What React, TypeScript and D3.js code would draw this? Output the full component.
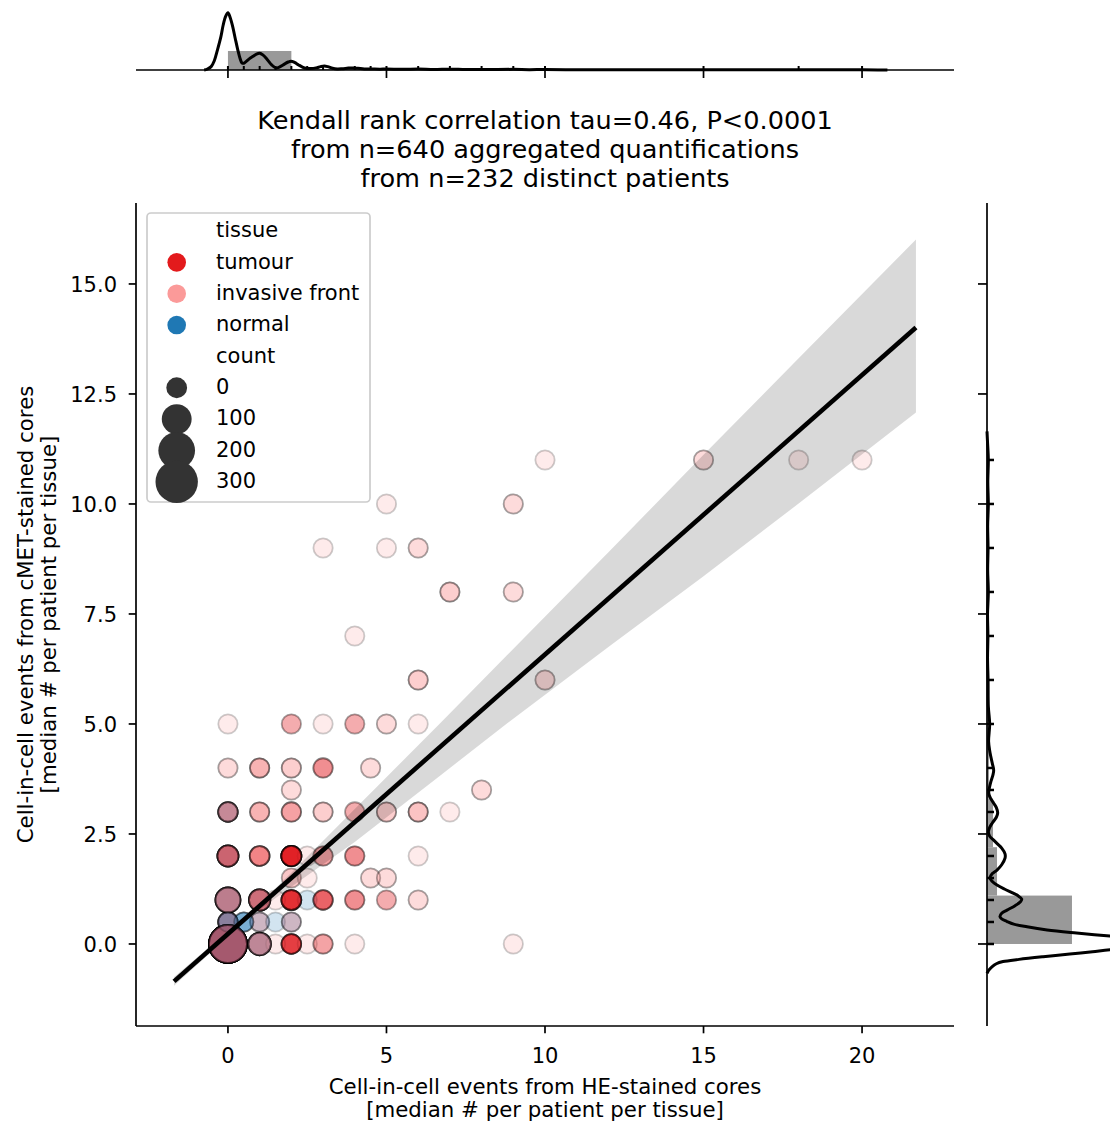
import React from "react";
import * as d3 from "d3";

const W = 1110;
const H = 1121;
const FONT = "'DejaVu Sans', sans-serif";

const xTicks = [0, 5, 10, 15, 20];
const yTicks = [0, 2.5, 5, 7.5, 10, 12.5, 15];
const tissueNames = ["tumour", "invasive front", "normal"];
const tissueColors = ["#e31a1c", "#fb9a99", "#1f78b4"];
const countLegend = [0, 100, 200, 300];

const titleLines = [
  "Kendall rank correlation tau=0.46, P<0.0001",
  "from n=640 aggregated quantifications",
  "from n=232 distinct patients",
];
const xLabelLines = ["Cell-in-cell events from HE-stained cores", "[median # per patient per tissue]"];
const yLabelLines = ["Cell-in-cell events from cMET-stained cores", "[median # per patient per tissue]"];

// [x, y, tissue index, count, overlapping quantifications]
const points: [number, number, number, number, number][] = [
  [0, 0, 0, 249, 10], [0, 0, 1, 249, 9], [0, 0, 2, 249, 9],
  [1, 0, 0, 33, 2], [1, 0, 1, 33, 6], [1, 0, 2, 33, 3],
  [1.5, 0, 1, 1, 1], [2, 0, 0, 4, 8], [2.5, 0, 1, 1, 1],
  [3, 0, 0, 2, 2], [3, 0, 1, 2, 1], [4, 0, 1, 1, 1], [9, 0, 1, 1, 1],
  [0, 0.5, 0, 3, 2], [0, 0.5, 1, 3, 2], [0, 0.5, 2, 3, 5],
  [0.5, 0.5, 2, 1, 4],
  [1, 0.5, 0, 1, 1], [1, 0.5, 1, 1, 1], [1, 0.5, 2, 1, 1],
  [1.5, 0.5, 2, 1, 1],
  [2, 0.5, 0, 1, 1], [2, 0.5, 1, 1, 1], [2, 0.5, 2, 1, 1],
  [0, 1, 0, 59, 3], [0, 1, 1, 59, 6], [0, 1, 2, 59, 3],
  [1, 1, 0, 20, 5], [1, 1, 1, 20, 5], [1, 1, 2, 20, 2],
  [1.5, 1, 1, 1, 1], [2, 1, 0, 6, 10], [2.5, 1, 2, 1, 1],
  [3, 1, 0, 3, 5], [4, 1, 0, 2, 3], [5, 1, 0, 1, 2], [6, 1, 1, 1, 2],
  [2, 1.5, 0, 1, 1], [2, 1.5, 1, 1, 1], [2.5, 1.5, 1, 1, 1],
  [4.5, 1.5, 1, 1, 2], [5, 1.5, 1, 1, 2],
  [0, 2, 0, 18, 5], [0, 2, 1, 18, 4], [0, 2, 2, 18, 2],
  [1, 2, 0, 5, 3], [1, 2, 1, 5, 4], [2, 2, 0, 8, 14], [2.5, 2, 1, 1, 1],
  [3, 2, 0, 2, 2], [3, 2, 1, 2, 1], [4, 2, 0, 2, 3], [6, 2, 1, 1, 1],
  [0, 3, 0, 3, 2], [0, 3, 1, 3, 5], [0, 3, 2, 3, 2],
  [1, 3, 0, 1, 1], [1, 3, 1, 1, 3], [2, 3, 0, 2, 2], [2, 3, 1, 2, 2],
  [3, 3, 1, 1, 3], [4, 3, 0, 2, 2], [5, 3, 1, 1, 3], [6, 3, 1, 1, 4], [7, 3, 1, 1, 1],
  [2, 3.5, 1, 1, 2], [8, 3.5, 1, 1, 2],
  [0, 4, 1, 1, 2], [1, 4, 0, 1, 1], [1, 4, 1, 1, 3], [2, 4, 1, 1, 3],
  [3, 4, 0, 2, 3], [4.5, 4, 1, 1, 2],
  [0, 5, 1, 1, 1], [2, 5, 0, 1, 2], [3, 5, 1, 1, 1], [4, 5, 0, 1, 2],
  [5, 5, 1, 1, 2], [6, 5, 1, 1, 1],
  [6, 6, 1, 1, 3], [10, 6, 1, 1, 2],
  [4, 7, 1, 1, 1],
  [7, 8, 1, 1, 3], [9, 8, 1, 1, 2],
  [3, 9, 1, 1, 1], [5, 9, 1, 1, 1], [6, 9, 1, 1, 2],
  [5, 10, 1, 1, 1], [9, 10, 1, 1, 2],
  [10, 11, 1, 1, 1], [15, 11, 1, 1, 2], [18, 11, 1, 1, 1], [20, 11, 1, 1, 1],
];

// regression line and bootstrap confidence band
const regX = [-1.7, 21.7];
const regY = [-0.85, 14.01];
const ciX = [-1.7, 0, 1, 2, 4, 6.7, 8.8, 12, 15, 18, 21.7];
const ciHigh = [-0.75, 0.29, 0.915, 1.62, 3.07, 5.02, 6.56, 8.9, 11.12, 13.31, 16.01];
const ciLow = [-0.95, 0.16, 0.785, 1.3, 2.32, 3.83, 5.01, 6.75, 8.36, 10.01, 12.08];

// top marginal (x distribution)
const topBinEdges = [0, 2, 4, 6, 8, 10, 12, 14, 16, 18, 20];
const topHist = [0.452, 0.025, 0.008, 0.004, 0.004, 0.002, 0.001, 0.001, 0.002, 0.002];
const topKdeX = [-0.75, -0.65, -0.53, -0.43, -0.33, -0.22, -0.15, -0.07, 0, 0.07, 0.15, 0.23, 0.31, 0.38, 0.44, 0.5, 0.57, 0.68, 0.78, 0.9, 1.0, 1.1, 1.25, 1.38, 1.51, 1.62, 1.78, 1.9, 1.99, 2.1, 2.23, 2.35, 2.46, 2.6, 2.78, 2.92, 3.04, 3.15, 3.3, 3.45, 3.6, 3.8, 3.93, 4.1, 4.3, 4.5, 4.8, 5, 5.5, 6, 6.5, 7, 7.5, 8, 9, 9.5, 10, 11, 12, 13, 14, 15, 16, 17, 18, 19, 20, 20.5, 20.8];
const topKdeD = [0, 0.02, 0.08, 0.22, 0.48, 0.8, 1.07, 1.28, 1.36, 1.25, 1.03, 0.75, 0.48, 0.28, 0.17, 0.16, 0.2, 0.27, 0.32, 0.38, 0.4, 0.36, 0.24, 0.12, 0.05, 0.07, 0.14, 0.19, 0.21, 0.18, 0.12, 0.07, 0.04, 0.035, 0.05, 0.08, 0.095, 0.08, 0.04, 0.025, 0.03, 0.045, 0.05, 0.04, 0.025, 0.025, 0.02, 0.025, 0.015, 0.022, 0.012, 0.02, 0.01, 0.012, 0.015, 0.008, 0.012, 0.005, 0.004, 0.003, 0.004, 0.007, 0.004, 0.003, 0.006, 0.004, 0.005, 0.002, 0];

// right marginal (y distribution)
const rightBinEdges = [0, 1.1, 2.2, 3.3, 4.4, 5.5, 6.6, 7.7, 8.8, 9.9, 11];
const rightHist = [0.636, 0.075, 0.045, 0.015, 0.01, 0.006, 0.004, 0.005, 0.006, 0.006];
const rightKdeY = [-0.67, -0.6, -0.52, -0.45, -0.4, -0.35, -0.29, -0.23, -0.175, -0.1, -0.02, 0.05, 0.11, 0.18, 0.25, 0.32, 0.39, 0.45, 0.51, 0.57, 0.62, 0.7, 0.77, 0.87, 0.96, 1.02, 1.1, 1.15, 1.25, 1.34, 1.42, 1.5, 1.6, 1.68, 1.8, 1.95, 2.05, 2.18, 2.27, 2.36, 2.45, 2.55, 2.65, 2.75, 2.88, 2.98, 3.1, 3.2, 3.32, 3.43, 3.55, 3.7, 3.85, 3.95, 4.1, 4.36, 4.6, 5.0, 5.4, 6, 6.5, 7, 7.5, 8, 8.5, 9, 9.5, 10, 10.5, 11, 11.4, 11.65];
const rightKdeD = [0, 0.012, 0.037, 0.07, 0.12, 0.24, 0.42, 0.62, 0.79, 1.0, 1.15, 1.22, 1.15, 0.92, 0.67, 0.45, 0.3, 0.2, 0.15, 0.11, 0.097, 0.11, 0.15, 0.21, 0.25, 0.26, 0.23, 0.2, 0.13, 0.075, 0.04, 0.022, 0.04, 0.075, 0.11, 0.135, 0.135, 0.11, 0.08, 0.05, 0.02, 0.01, 0.02, 0.04, 0.07, 0.08, 0.07, 0.05, 0.025, 0.013, 0.018, 0.03, 0.045, 0.05, 0.04, 0.022, 0.012, 0.02, 0.01, 0.008, 0.004, 0.007, 0.004, 0.01, 0.005, 0.008, 0.005, 0.01, 0.006, 0.01, 0.004, 0];

export default function App() {
  const x = d3.scaleLinear().domain([-2.9, 22.9]).range([136, 954]);
  const y = d3.scaleLinear().domain([-1.864, 16.84]).range([1026, 203]);
  const topD = d3.scaleLinear().domain([0, 1.45]).range([70, 9]);
  const rightD = d3.scaleLinear().domain([0, 1]).range([987, 1120.6]);
  const area = d3.scaleLinear().domain([0, 300]).range([92, 416]);
  const rad = (c: number) => Math.sqrt(area(c));

  // expand overlapping quantifications, interleaved by tissue
  const layers: { px: number; py: number; t: number; c: number; k: number }[] = [];
  points.forEach(([px, py, t, c, n]) => {
    for (let i = 0; i < n; i++) layers.push({ px, py, t, c, k: (i + 0.5) / n });
  });
  layers.sort((a, b) => a.k - b.k);

  const band = d3
    .area<number>()
    .x((_, i) => x(ciX[i]))
    .y0((_, i) => y(ciLow[i]))
    .y1((_, i) => y(ciHigh[i]));
  const regLine = d3
    .line<number>()
    .x((_, i) => x(regX[i]))
    .y((_, i) => y(regY[i]));

  const topKde = d3
    .line<number>()
    .x((_, i) => x(topKdeX[i]))
    .y((_, i) => topD(topKdeD[i]))
    .curve(d3.curveCatmullRom.alpha(0.5));
  const rightKde = d3
    .line<number>()
    .x((_, i) => rightD(rightKdeD[i]))
    .y((_, i) => y(rightKdeY[i]))
    .curve(d3.curveCatmullRom.alpha(0.5));

  const uniqX = Array.from(new Set(points.map((p) => p[0])));
  const uniqY = Array.from(new Set(points.map((p) => p[1])));

  const fmt = d3.format(".1f");
  const fs = 21;
  const legendRows = [
    { label: "tissue", kind: "title" },
    ...tissueNames.map((n, i) => ({ label: n, kind: "hue", i })),
    { label: "count", kind: "title" },
    ...countLegend.map((c) => ({ label: String(c), kind: "size", c })),
  ] as any[];

  return (
    <svg
      width={W}
      height={H}
      style={{ position: "absolute", left: 0, top: 0, background: "#fff" }}
      fontFamily={FONT}
    >
      <rect x={0} y={0} width={W} height={H} fill="#fff" />

      {/* top marginal */}
      <g>
        {topHist.map((d, i) => (
          <rect
            key={i}
            x={x(topBinEdges[i])}
            width={x(topBinEdges[i + 1]) - x(topBinEdges[i])}
            y={topD(d)}
            height={topD(0) - topD(d)}
            fill="#999999"
          />
        ))}
        <path d={topKde(topKdeX) || ""} fill="none" stroke="#000" strokeWidth={3} strokeLinejoin="round" />
        {uniqX.map((v) => (
          <line key={v} x1={x(v)} x2={x(v)} y1={70} y2={66} stroke="#000" strokeWidth={2} />
        ))}
        <line x1={136} x2={954} y1={70} y2={70} stroke="#000" strokeWidth={1.7} />
        {xTicks.map((t) => (
          <line key={t} x1={x(t)} x2={x(t)} y1={70} y2={78} stroke="#000" strokeWidth={1.7} />
        ))}
      </g>

      {/* right marginal */}
      <g>
        {rightHist.map((d, i) => (
          <rect
            key={i}
            x={rightD(0)}
            width={rightD(d) - rightD(0)}
            y={y(rightBinEdges[i + 1])}
            height={y(rightBinEdges[i]) - y(rightBinEdges[i + 1])}
            fill="#999999"
          />
        ))}
        <path d={rightKde(rightKdeY) || ""} fill="none" stroke="#000" strokeWidth={3} strokeLinejoin="round" />
        {uniqY.map((v) => (
          <line key={v} x1={987} x2={994} y1={y(v)} y2={y(v)} stroke="#000" strokeWidth={2.5} />
        ))}
        <line x1={987} x2={987} y1={203} y2={1026} stroke="#000" strokeWidth={1.7} />
        {yTicks.map((t) => (
          <line key={t} x1={978} x2={987} y1={y(t)} y2={y(t)} stroke="#000" strokeWidth={1.7} />
        ))}
      </g>

      {/* scatter */}
      <g>
        {layers.map((l, i) => (
          <circle
            key={i}
            cx={x(l.px)}
            cy={y(l.py)}
            r={rad(l.c)}
            fill={tissueColors[l.t]}
            fillOpacity={0.2}
            stroke="#000"
            strokeOpacity={0.2}
            strokeWidth={1.8}
          />
        ))}
      </g>

      {/* regression */}
      <path d={band(ciX) || ""} fill="#000" fillOpacity={0.15} />
      <path d={regLine(regX) || ""} fill="none" stroke="#000" strokeWidth={4.6} />

      {/* main axes */}
      <line x1={136} x2={136} y1={203} y2={1026} stroke="#000" strokeWidth={1.7} />
      <line x1={136} x2={954} y1={1026} y2={1026} stroke="#000" strokeWidth={1.7} />
      {xTicks.map((t) => (
        <g key={t}>
          <line x1={x(t)} x2={x(t)} y1={1026} y2={1033.3} stroke="#000" strokeWidth={1.7} />
          <text x={x(t)} y={1063} textAnchor="middle" fontSize={fs}>
            {t}
          </text>
        </g>
      ))}
      {yTicks.map((t) => (
        <g key={t}>
          <line x1={128.7} x2={136} y1={y(t)} y2={y(t)} stroke="#000" strokeWidth={1.7} />
          <text x={117} y={y(t) + 7.7} textAnchor="end" fontSize={fs}>
            {fmt(t)}
          </text>
        </g>
      ))}
      {xLabelLines.map((s, i) => (
        <text key={s} x={545} y={1094 + i * 22.5} textAnchor="middle" fontSize={21.3}>
          {s}
        </text>
      ))}
      {yLabelLines.map((s, i) => (
        <text key={s} transform={`translate(${33 + i * 23},614.5) rotate(-90)`} textAnchor="middle" fontSize={21.3}>
          {s}
        </text>
      ))}
      {titleLines.map((s, i) => (
        <text key={s} x={545} y={129 + i * 29} textAnchor="middle" fontSize={25.6}>
          {s}
        </text>
      ))}

      {/* legend */}
      <g>
        <rect x={147} y={213} width={223} height={289} rx={4} fill="#fff" fillOpacity={0.8} stroke="#cccccc" strokeWidth={1.7} />
        {legendRows.map((r, k) => {
          const base = 237.3 + 31.35 * k;
          return (
            <g key={k}>
              {r.kind === "hue" && <circle cx={176.7} cy={base - 6.3} r={9.3} fill={tissueColors[r.i]} />}
              {r.kind === "size" && <circle cx={176.7} cy={base - 6.3} r={rad(r.c) + 0.8} fill="#333333" />}
              <text x={216} y={base} fontSize={fs}>
                {r.label}
              </text>
            </g>
          );
        })}
      </g>
    </svg>
  );
}
